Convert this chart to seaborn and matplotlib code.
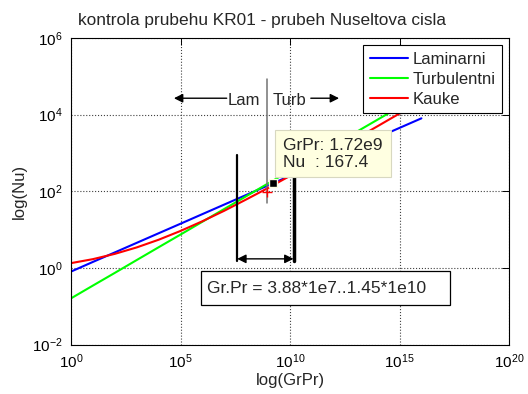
import matplotlib
matplotlib.use("Agg")
import matplotlib.pyplot as plt
import pandas as pd
import seaborn as sns
from matplotlib.patches import Rectangle
from matplotlib.ticker import NullLocator

sns.set_style("white")
plt.rcParams["font.family"] = ["Liberation Sans", "DejaVu Sans"]

# Gr.Pr values (one per decade) and the three Nusselt correlations
grpr = [1e0, 1e1, 1e2, 1e3, 1e4, 1e5, 1e6, 1e7, 1e8, 1e9, 1e10,
        1e11, 1e12, 1e13, 1e14, 1e15, 1e16]
nu_laminarni = [0.80, 1.43, 2.53, 4.5, 8.0, 14.2, 25.3, 45, 80, 142, 253,
                450, 800, 1420, 2530, 4500, 8000]
nu_turbulentni = [0.16, 0.345, 0.74, 1.6, 3.45, 7.4, 16, 34.5, 74, 160, 345,
                  740, 1600, 3450, 7400, 16000, 34500]
nu_kauke = [1.33, 1.69, 2.32, 3.42, 5.42, 9.2, 16.5, 31, 61, 122, 252,
            524, 1100, 2340, 4990, 10700, 22900]
series_names = ["Laminarni", "Turbulentni", "Kauke"]
series_colors = ["#0000ff", "#00ff00", "#ff0000"]

# marked point and the evaluated range
tip_grpr, tip_nu = 1.72e9, 167.4
range_lo, range_hi = 3.88e7, 1.45e10
boundary_grpr = 8.6e8
kauke_mark = (9e8, 95)

df = pd.concat([
    pd.DataFrame({"GrPr": grpr, "Nu": vals, "serie": name})
    for name, vals in zip(series_names, [nu_laminarni, nu_turbulentni, nu_kauke])
], ignore_index=True)

W, H = 528, 394
fig = plt.figure(figsize=(W / 100, H / 100), dpi=100)
ax_l, ax_r, ax_t, ax_b = 71, 509, 38, 344.5
ax = fig.add_axes([ax_l / W, (H - ax_b) / H, (ax_r - ax_l) / W, (ax_b - ax_t) / H])

sns.lineplot(data=df, x="GrPr", y="Nu", hue="serie", hue_order=series_names,
             palette=series_colors, linewidth=1.5, ax=ax, legend=True, sort=False)

ax.set_xscale("log")
ax.set_yscale("log")
ax.set_xlim(1e0, 1e20)
ax.set_ylim(1e-2, 1e6)
ax.set_xticks([1e0, 1e5, 1e10, 1e15, 1e20])
ax.set_yticks([1e-2, 1e0, 1e2, 1e4, 1e6])
ax.xaxis.set_minor_locator(NullLocator())
ax.yaxis.set_minor_locator(NullLocator())
ax.tick_params(which="both", direction="in", top=True, right=True,
               length=5, width=0.7, labelsize=11, pad=6, colors="k")
ax.grid(True, which="major", linestyle=":", color="0.25", linewidth=0.8)
for sp in ax.spines.values():
    sp.set_color("k")
    sp.set_linewidth(0.8)

ax.set_xlabel("log(GrPr)", fontsize=12, labelpad=1)
ax.set_ylabel("log(Nu)", fontsize=12, labelpad=4)
ax.set_title("kontrola prubehu KR01 - prubeh Nuseltova cisla", fontsize=12.4,
             x=0.435, pad=9.5)

# laminar / turbulent boundary
ax.plot([boundary_grpr, boundary_grpr], [48, 8.3e4], color="0.45", lw=1.1, zorder=3)
arrow_y = 2.68e4
ax.annotate("", xy=(10**4.70, arrow_y), xytext=(10**7.11, arrow_y),
            arrowprops=dict(arrowstyle="-|>", color="k", lw=1, mutation_scale=13,
                            shrinkA=0, shrinkB=0))
ax.annotate("", xy=(10**12.24, arrow_y), xytext=(10**10.95, arrow_y),
            arrowprops=dict(arrowstyle="-|>", color="k", lw=1, mutation_scale=13,
                            shrinkA=0, shrinkB=0))
ax.text(10**7.17, 10**4.26, "Lam", fontsize=12, ha="left", va="baseline")
ax.text(10**9.22, 10**4.26, "Turb", fontsize=12, ha="left", va="baseline")

# evaluated Gr.Pr range
ax.plot([range_lo, range_lo], [1.55, 910], color="k", lw=1.6, zorder=3)
ax.plot([range_hi, range_hi], [1.55, 910], color="k", lw=2.5, zorder=3)
ax.annotate("", xy=(range_lo, 1.72), xytext=(range_hi, 1.72),
            arrowprops=dict(arrowstyle="<|-|>", color="k", lw=1, mutation_scale=13,
                            shrinkA=0, shrinkB=0))

x0, x1 = 10**5.92, 10**17.3
y0, y1 = 10**-0.958, 10**-0.089
ax.add_patch(Rectangle((x0, y0), x1 - x0, y1 - y0, facecolor="white",
                       edgecolor="k", lw=0.9, zorder=4))
ax.text(10**6.2, 10**-0.663, "Gr.Pr = 3.88*1e7..1.45*1e10", fontsize=12.5,
        ha="left", va="baseline", zorder=5)

ax.plot(*kauke_mark, marker="+", color="r", ms=7, mew=1, zorder=4)

# data tip
ax.plot(tip_grpr, tip_nu, marker="s", ms=5.5, mfc="k", mec="#ffffe1", mew=1,
        zorder=7)
ax.annotate(f"GrPr: {tip_grpr:.2e}".replace("e+0", "e") + f"\nNu  : {tip_nu}",
            xy=(tip_grpr, tip_nu), xytext=(10, 13), textcoords="offset pixels",
            fontsize=12.5, ha="left", va="bottom", linespacing=1.15, zorder=6,
            bbox=dict(boxstyle="square,pad=0.45", fc="#ffffe1", ec="#d8d8c0", lw=0.8))

handles, labels = ax.get_legend_handles_labels()
leg = ax.legend(handles, labels, loc="upper right", bbox_to_anchor=(0.984, 0.977),
                borderaxespad=0, fontsize=12, handlelength=2.3, handletextpad=0.25,
                labelspacing=0.3, borderpad=0.4, fancybox=False, framealpha=1,
                edgecolor="k")
leg.get_frame().set_linewidth(0.8)
leg.set_zorder(8)

fig.savefig("out.png", dpi=100, facecolor="white")
